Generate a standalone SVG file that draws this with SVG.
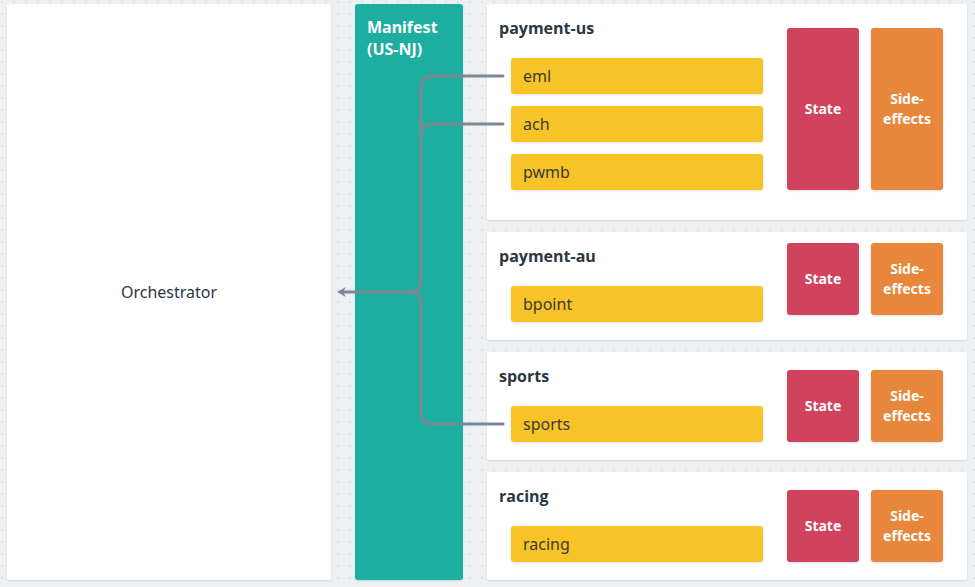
<svg xmlns="http://www.w3.org/2000/svg" width="975" height="587" viewBox="0 0 975 587">
<defs>
<pattern id="dots" width="12" height="12" patternUnits="userSpaceOnUse" x="1" y="1">
<circle cx="1" cy="1" r="0.9" fill="#d3d8de"/>
</pattern>
<filter id="sh" x="-10%" y="-10%" width="120%" height="130%">
<feDropShadow dx="0" dy="1" stdDeviation="1.2" flood-color="#000" flood-opacity="0.12"/>
</filter>
<marker id="arr" markerWidth="12" markerHeight="12" refX="5" refY="6" orient="auto" markerUnits="userSpaceOnUse">
<path d="M1,1 L10,6 L1,11 L4,6 Z" fill="#7b8794"/>
</marker>
<style>
.panel{fill:#fff;filter:url(#sh)}
.item{fill:#f8c325;filter:url(#sh)}
.state{fill:#d1435b;filter:url(#sh)}
.side{fill:#e8863a;filter:url(#sh)}
.title{font-family:"Open Sans","Noto Sans",sans-serif;font-weight:700;font-size:16px;fill:#2a3746}
.itext{font-family:"Noto Sans","Open Sans",sans-serif;font-size:16px;fill:#3a3a36}
.wtext{font-family:"Noto Sans","Open Sans",sans-serif;font-weight:700;font-size:14px;fill:#fff;text-anchor:middle}
.conn{fill:none;stroke:#7b8794;stroke-width:3;stroke-linecap:round}
</style>
</defs>
<rect width="975" height="587" fill="#eef1f4"/>
<rect width="975" height="587" fill="url(#dots)"/>

<g id="orchestrator">
<rect x="7" y="4" width="324" height="576" rx="3" class="panel"/>
<text x="169" y="298" text-anchor="middle" font-family="Noto Sans, Open Sans, sans-serif" font-size="16" fill="#2a3746">Orchestrator</text>
</g>

<g id="manifest">
<rect x="355" y="4" width="108" height="576" rx="3" fill="#1aae9f" filter="url(#sh)"/>
<text x="367" y="33" font-family="Noto Sans, Open Sans, sans-serif" font-weight="700" font-size="16" fill="#fff">Manifest</text>
<text x="367" y="55" font-family="Noto Sans, Open Sans, sans-serif" font-weight="700" font-size="16" fill="#fff">(US-NJ)</text>
</g>

<g id="payment-us">
<rect x="487" y="4" width="480" height="216" rx="3" class="panel"/>
<text x="499" y="34" class="title">payment-us</text>
<g id="eml"><rect x="511" y="58" width="252" height="36" rx="3" class="item"/><text x="523" y="82" class="itext">eml</text></g>
<g id="ach"><rect x="511" y="106" width="252" height="36" rx="3" class="item"/><text x="523" y="130" class="itext">ach</text></g>
<g id="pwmb"><rect x="511" y="154" width="252" height="36" rx="3" class="item"/><text x="523" y="178" class="itext">pwmb</text></g>
<g id="payment-us-state"><rect x="787" y="28" width="72" height="162" rx="3" class="state"/><text x="823" y="114" class="wtext">State</text></g>
<g id="payment-us-side"><rect x="871" y="28" width="72" height="162" rx="3" class="side"/><text x="907" y="104" class="wtext">Side-</text><text x="907" y="124" class="wtext">effects</text></g>
</g>

<g id="payment-au">
<rect x="487" y="232" width="480" height="108" rx="3" class="panel"/>
<text x="499" y="262" class="title">payment-au</text>
<g id="bpoint"><rect x="511" y="286" width="252" height="36" rx="3" class="item"/><text x="523" y="310" class="itext">bpoint</text></g>
<g id="payment-au-state"><rect x="787" y="243" width="72" height="72" rx="3" class="state"/><text x="823" y="284" class="wtext">State</text></g>
<g id="payment-au-side"><rect x="871" y="243" width="72" height="72" rx="3" class="side"/><text x="907" y="274" class="wtext">Side-</text><text x="907" y="294" class="wtext">effects</text></g>
</g>

<g id="sports-panel">
<rect x="487" y="352" width="480" height="108" rx="3" class="panel"/>
<text x="499" y="382" class="title">sports</text>
<g id="sports"><rect x="511" y="406" width="252" height="36" rx="3" class="item"/><text x="523" y="430" class="itext">sports</text></g>
<g id="sports-state"><rect x="787" y="370" width="72" height="72" rx="3" class="state"/><text x="823" y="411" class="wtext">State</text></g>
<g id="sports-side"><rect x="871" y="370" width="72" height="72" rx="3" class="side"/><text x="907" y="401" class="wtext">Side-</text><text x="907" y="421" class="wtext">effects</text></g>
</g>

<g id="racing-panel">
<rect x="487" y="472" width="480" height="108" rx="3" class="panel"/>
<text x="499" y="502" class="title">racing</text>
<g id="racing"><rect x="511" y="526" width="252" height="36" rx="3" class="item"/><text x="523" y="550" class="itext">racing</text></g>
<g id="racing-state"><rect x="787" y="490" width="72" height="72" rx="3" class="state"/><text x="823" y="531" class="wtext">State</text></g>
<g id="racing-side"><rect x="871" y="490" width="72" height="72" rx="3" class="side"/><text x="907" y="521" class="wtext">Side-</text><text x="907" y="541" class="wtext">effects</text></g>
</g>

<g id="connectors">
<path class="conn" d="M503,76 H433 Q421,76 421,88 V280 Q421,292 409,292 H342" marker-end="url(#arr)"/>
<path class="conn" d="M503,124 H433 Q421,124 421,136"/>
<path class="conn" d="M503,424 H433 Q421,424 421,412 V304 Q421,292 409,292"/>
</g>
</svg>
